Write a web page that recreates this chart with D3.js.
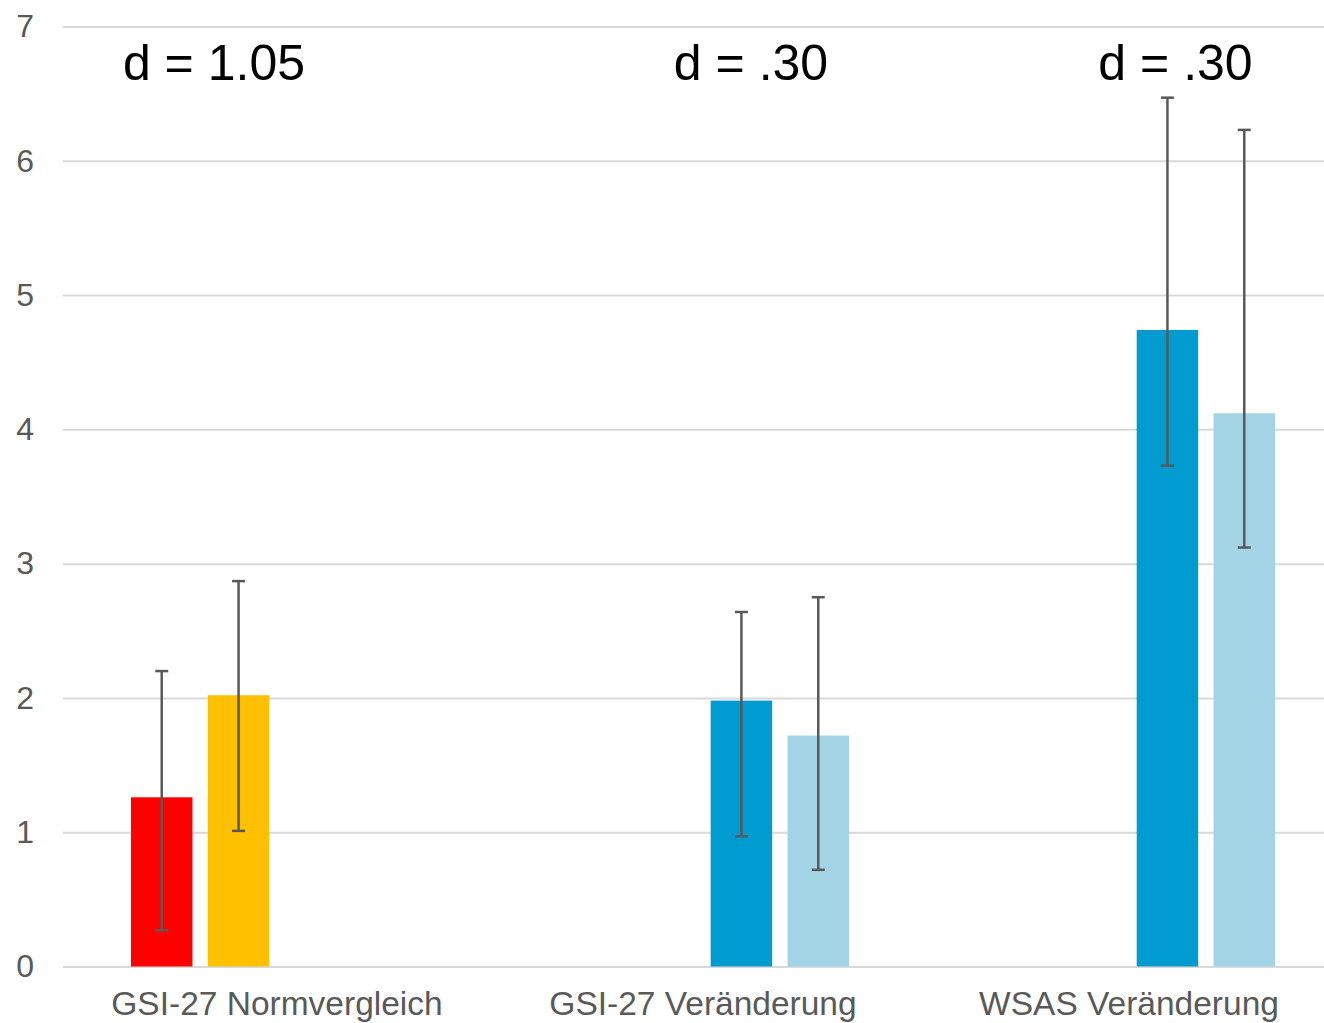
<!DOCTYPE html>
<html>
<head>
<meta charset="utf-8">
<script src="https://cdn.jsdelivr.net/npm/d3@7/dist/d3.min.js"></script>
<style>
  html, body { margin: 0; padding: 0; background: #ffffff; }
  svg { display: block; }
</style>
</head>
<body>
<svg id="chart" width="1324" height="1023"></svg>
<script>
// ---------- data ----------
const categories = ["GSI-27 Normvergleich", "GSI-27 Veränderung", "WSAS Veränderung"];
const seriesNames = ["Norm A", "Norm B", "Prä", "Post"];
// means per series across categories (null = no bar)
const normA  = [1.26, null, null];
const normB  = [2.02, null, null];
const pre    = [null, 1.98, 4.74];
const post   = [null, 1.72, 4.12];
// error bar bounds (low / high)
const normALow  = [0.27, null, null];
const normAHigh = [2.20, null, null];
const normBLow  = [1.01, null, null];
const normBHigh = [2.87, null, null];
const preLow    = [null, 0.97, 3.73];
const preHigh   = [null, 2.64, 6.47];
const postLow   = [null, 0.72, 3.12];
const postHigh  = [null, 2.75, 6.23];
const effectLabels = ["d = 1.05", "d = .30", "d = .30"];
const yTicks = [0, 1, 2, 3, 4, 5, 6, 7];

// ---------- layout / style ----------
const colors = ["#FF0000", "#FFC000", "#009BD0", "#A3D4E6"];
const W = 1324, H = 1023;
const plot = { left: 63, right: 1343, top: 26.5, bottom: 966.5 };
const effectOffsets = [-63, 48, 46.5]; // px relative to category centre
const effectBaseline = 80;

const values = [normA, normB, pre, post];
const lows = [normALow, normBLow, preLow, postLow];
const highs = [normAHigh, normBHigh, preHigh, postHigh];

const svg = d3.select("#chart");

const x0 = d3.scaleBand()
  .domain(categories)
  .range([plot.left, plot.right])
  .paddingInner(0.3146)
  .paddingOuter(0.1596);

const x1 = d3.scaleBand()
  .domain(seriesNames)
  .range([0, x0.bandwidth()])
  .paddingInner(0.2)
  .paddingOuter(0);

const y = d3.scaleLinear().domain([0, 7]).range([plot.bottom, plot.top]);

// gridlines
const yAxis = d3.axisLeft(y)
  .tickValues(yTicks)
  .tickSize(-(W - plot.left))
  .tickPadding(29)
  .tickFormat(d3.format("d"));

const gy = svg.append("g")
  .attr("transform", `translate(${plot.left},0)`)
  .call(yAxis);
gy.select(".domain").remove();
gy.selectAll(".tick line")
  .attr("stroke", "#D9D9D9")
  .attr("stroke-width", 2);
gy.selectAll(".tick text")
  .attr("fill", "#595959")
  .attr("font-family", "'Liberation Sans', Arial, sans-serif")
  .attr("font-size", 32);

// bars
const barData = [];
values.forEach((arr, si) => {
  arr.forEach((v, ci) => {
    if (v !== null) barData.push({ si, ci, v, lo: lows[si][ci], hi: highs[si][ci] });
  });
});

const barsG = svg.append("g");
barsG.selectAll("rect")
  .data(barData)
  .join("rect")
  .attr("x", d => x0(categories[d.ci]) + x1(seriesNames[d.si]))
  .attr("width", x1.bandwidth())
  .attr("y", d => y(d.v))
  .attr("height", d => y(0) - y(d.v))
  .attr("fill", d => colors[d.si]);

// error bars
const errG = svg.append("g")
  .attr("stroke", "#595959")
  .attr("stroke-width", 2.5)
  .attr("fill", "none");
const cx = d => x0(categories[d.ci]) + x1(seriesNames[d.si]) + x1.bandwidth() / 2;
const capHalf = 6.5;
barData.forEach(d => {
  const g = errG.append("g");
  g.append("line").attr("x1", cx(d)).attr("x2", cx(d)).attr("y1", y(d.lo)).attr("y2", y(d.hi));
  g.append("line").attr("x1", cx(d) - capHalf).attr("x2", cx(d) + capHalf).attr("y1", y(d.lo)).attr("y2", y(d.lo));
  g.append("line").attr("x1", cx(d) - capHalf).attr("x2", cx(d) + capHalf).attr("y1", y(d.hi)).attr("y2", y(d.hi));
});

// category labels
svg.append("g").selectAll("text")
  .data(categories)
  .join("text")
  .attr("x", d => x0(d) + x0.bandwidth() / 2)
  .attr("y", 1015)
  .attr("text-anchor", "middle")
  .attr("fill", "#595959")
  .attr("font-family", "'Liberation Sans', Arial, sans-serif")
  .attr("font-size", 33.5)
  .text(d => d);

// effect size labels
svg.append("g").selectAll("text")
  .data(effectLabels)
  .join("text")
  .attr("x", (d, i) => x0(categories[i]) + x0.bandwidth() / 2 + effectOffsets[i])
  .attr("y", effectBaseline)
  .attr("text-anchor", "middle")
  .attr("fill", "#000000")
  .attr("font-family", "'Liberation Sans', Arial, sans-serif")
  .attr("font-size", 50)
  .text(d => d);
</script>
</body>
</html>
